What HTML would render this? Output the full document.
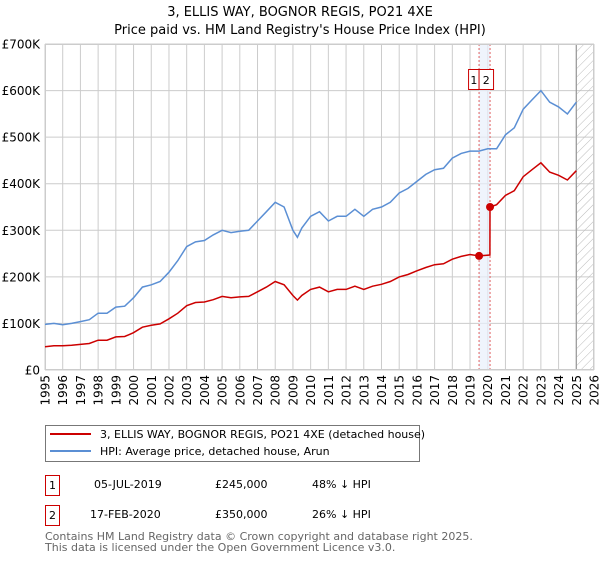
<!DOCTYPE html>
<html><head><meta charset="utf-8"><style>
body{margin:0;background:#fff;font-family:"Liberation Sans","DejaVu Sans",sans-serif;}
svg text{font-family:"DejaVu Sans","Liberation Sans",sans-serif;}
</style></head><body>
<svg id="chart" width="600" height="560" xmlns="http://www.w3.org/2000/svg">
<defs><pattern id="hatch" width="6" height="6" patternUnits="userSpaceOnUse" patternTransform="rotate(45)"><line x1="0" y1="0" x2="0" y2="6" stroke="#bbb" stroke-width="1"/></pattern></defs>
<text x="300" y="16" text-anchor="middle" font-size="13">3, ELLIS WAY, BOGNOR REGIS, PO21 4XE</text>
<text x="300" y="34" text-anchor="middle" font-size="13">Price paid vs. HM Land Registry's House Price Index (HPI)</text>
<g id="grid"></g><g id="marks"></g><g id="series"></g>
<g>
<rect x="45.5" y="425.5" width="374" height="36" fill="#fff" stroke="#777"/>
<line x1="50" y1="434" x2="91" y2="434" stroke="#cc0000" stroke-width="2"/>
<text x="100" y="438" font-size="11">3, ELLIS WAY, BOGNOR REGIS, PO21 4XE (detached house)</text>
<line x1="50" y1="451" x2="91" y2="451" stroke="#5b8fd4" stroke-width="2"/>
<text x="100" y="455" font-size="11">HPI: Average price, detached house, Arun</text>
</g>
<g font-size="11">
<rect x="45.5" y="475.5" width="14" height="20" fill="#fff" stroke="#cc0000"/>
<text x="52.5" y="489" text-anchor="middle">1</text>
<text x="94" y="488">05-JUL-2019</text><text x="215" y="488">£245,000</text><text x="312" y="488">48% ↓ HPI</text>
<rect x="45.5" y="505.5" width="14" height="20" fill="#fff" stroke="#cc0000"/>
<text x="52.5" y="519" text-anchor="middle">2</text>
<text x="90" y="518">17-FEB-2020</text><text x="215" y="518">£350,000</text><text x="312" y="518">26% ↓ HPI</text>
</g>
<text x="45" y="540" font-size="11" fill="#666">Contains HM Land Registry data © Crown copyright and database right 2025.</text>
<text x="45" y="551" font-size="11" fill="#666">This data is licensed under the Open Government Licence v3.0.</text>
</svg>
<script>
const hpiYears=[1995,1995.5,1996,1996.5,1997,1997.5,1998,1998.5,1999,1999.5,2000,2000.5,2001,2001.5,2002,2002.5,2003,2003.5,2004,2004.5,2005,2005.5,2006,2006.5,2007,2007.5,2008,2008.5,2009,2009.25,2009.5,2010,2010.5,2011,2011.5,2012,2012.5,2013,2013.5,2014,2014.5,2015,2015.5,2016,2016.5,2017,2017.5,2018,2018.5,2019,2019.5,2020,2020.5,2021,2021.5,2022,2022.5,2023,2023.5,2024,2024.5,2025];
const hpiValues=[98,100,97,100,104,108,122,122,135,137,155,178,183,190,210,235,265,275,278,290,300,295,298,300,320,340,360,350,300,285,305,330,340,320,330,330,345,330,345,350,360,380,390,405,420,430,433,455,465,470,470,475,475,505,520,560,580,600,575,565,550,575];
const priceYears=[1995,1995.5,1996,1996.5,1997,1997.5,1998,1998.5,1999,1999.5,2000,2000.5,2001,2001.5,2002,2002.5,2003,2003.5,2004,2004.5,2005,2005.5,2006,2006.5,2007,2007.5,2008,2008.5,2009,2009.25,2009.5,2010,2010.5,2011,2011.5,2012,2012.5,2013,2013.5,2014,2014.5,2015,2015.5,2016,2016.5,2017,2017.5,2018,2018.5,2019,2019.51,2020.12,2020.13,2020.5,2021,2021.5,2022,2022.5,2023,2023.5,2024,2024.5,2025];
const priceValues=[50,52,52,53,55,57,64,64,71,72,80,92,96,99,110,122,138,145,146,151,158,155,157,158,168,178,190,183,160,150,160,173,178,168,173,173,180,173,180,184,190,200,205,213,220,226,228,238,244,248,245,247,350,355,375,385,415,430,445,425,418,408,428];
const saleYears=[2019.51,2020.13];
const saleValues=[245,350];
const saleLabels=["1","2"];
const yTicks=[0,100,200,300,400,500,600,700];
const yTickLabels=["£0","£100K","£200K","£300K","£400K","£500K","£600K","£700K"];
const xTicks=[1995,1996,1997,1998,1999,2000,2001,2002,2003,2004,2005,2006,2007,2008,2009,2010,2011,2012,2013,2014,2015,2016,2017,2018,2019,2020,2021,2022,2023,2024,2025,2026];

const X0=45,X1=594,Y0=370,Y1=44;
const xs=y=>X0+(y-1995)/(2026-1995)*(X1-X0);
const ys=v=>Y0-v/700*(Y0-Y1);
const NS="http://www.w3.org/2000/svg";
function mk(tag,attrs,parent){const e=document.createElementNS(NS,tag);for(const k in attrs)e.setAttribute(k,attrs[k]);parent.appendChild(e);return e;}
const grid=document.getElementById('grid'),marks=document.getElementById('marks'),series=document.getElementById('series');
mk('rect',{x:X0,y:Y1,width:X1-X0,height:Y0-Y1,fill:'#fff'},grid);
yTicks.forEach((t,i)=>{
  const l=mk('line',{x1:X0,x2:X1,y1:ys(t),y2:ys(t),stroke:'#ccc'},grid);
  
  
  const tx=mk('text',{x:40,y:ys(t)+4.5,'text-anchor':'end','font-size':12},grid);
  tx.textContent=yTickLabels[i];
  
  
});
xTicks.forEach(t=>{
  const l=mk('line',{x1:xs(t),x2:xs(t),y1:Y1,y2:Y0,stroke:'#ccc'},grid);
  
  
  const tx=mk('text',{x:0,y:0,'font-size':12,'text-anchor':'end',transform:`translate(${xs(t)+4.5},375) rotate(-90)`},grid);
  tx.textContent=t;
  
  
});
const h=mk('rect',{x:xs(2025),y:Y1,width:X1-xs(2025),height:Y0-Y1,fill:'url(#hatch)'},marks);


mk('line',{x1:xs(2025),x2:xs(2025),y1:Y1,y2:Y0,stroke:'#999','stroke-width':1.2},marks);
const band=mk('rect',{x:xs(saleYears[0]),y:Y1,width:xs(saleYears[1])-xs(saleYears[0]),height:Y0-Y1,fill:'#e8effb',opacity:0.7},marks);


saleYears.forEach((y,i)=>{
  const l=mk('line',{x1:xs(y),x2:xs(y),y1:Y1,y2:Y0,stroke:'#e06060','stroke-dasharray':'2,2'},marks);
  
  
});
saleYears.forEach((y,i)=>{
  const bx=i===0?xs(saleYears[0])-10.5:xs(saleYears[0]);
  const bw=i===0?10.5:xs(saleYears[1])-xs(saleYears[0])+3.5;
  const r=mk('rect',{x:bx,y:69.5,width:bw,height:20,fill:'#fff',stroke:'#cc0000'},marks);
  
  
  const tx=mk('text',{x:bx+bw/2,y:84,'text-anchor':'middle','font-size':11},marks);
  tx.textContent=saleLabels[i];
  
  
});
mk('rect',{x:X0+0.5,y:Y1+0.5,width:X1-X0-1,height:Y0-Y1-1,fill:'none',stroke:'#ccc'},marks);
const path=(xa,va)=>xa.map((y,i)=>(i?'L':'M')+xs(y).toFixed(1)+','+ys(va[i]).toFixed(1)).join('');
const hp=mk('path',{d:path(hpiYears,hpiValues),fill:'none',stroke:'#5b8fd4','stroke-width':1.5},series);


const pp=mk('path',{d:path(priceYears,priceValues),fill:'none',stroke:'#cc0000','stroke-width':1.5},series);


saleYears.forEach((y,i)=>{
  const c=mk('circle',{cx:xs(y),cy:ys(saleValues[i]),r:4,fill:'#cc0000'},series);
  
  
});
</script>
</body></html>
